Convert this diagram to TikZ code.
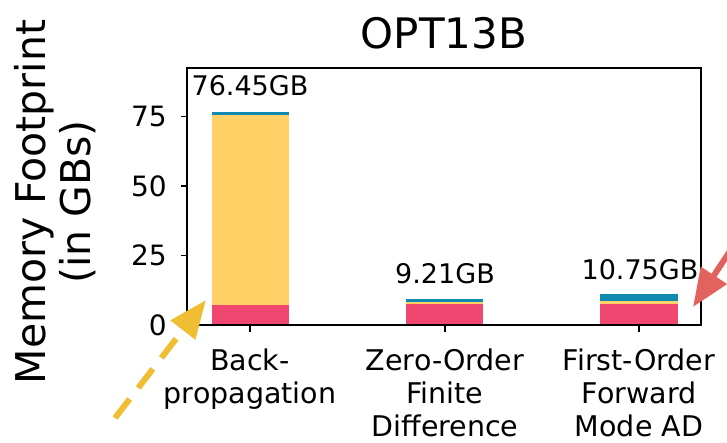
\documentclass[tikz,border=0pt]{standalone}
\usepackage{fontspec}
\setmainfont{DejaVu Sans}
\usetikzlibrary{arrows.meta}
\definecolor{cred}{HTML}{EF476F}
\definecolor{cyel}{HTML}{FFD166}
\definecolor{cteal}{HTML}{118AB2}
\definecolor{ayel}{RGB}{240,190,50}
\definecolor{ared}{RGB}{226,98,94}
\tikzset{
  ticklbl/.style={inner sep=0pt, font=\fontsize{28}{33}\selectfont},
  barlbl/.style={inner sep=0pt, anchor=base, font=\fontsize{27}{33}\selectfont},
  xlbl/.style={inner sep=0pt, anchor=north, align=center, font=\fontsize{28.5}{33}\selectfont},
  axisline/.style={line width=1.4pt, black},
  callout/.style={line width=6pt, -{Triangle[length=38pt,width=30pt]}}
}
\begin{document}
\begin{tikzpicture}[x=1pt,y=-1pt]
\useasboundingbox (0,0) rectangle (727,442);
\clip (0,0) rectangle (727,442);
% bars
\fill[cred]  (212,325) rectangle (289,305);
\fill[cyel]  (212,305) rectangle (289,114.5);
\fill[cteal] (212,114.5) rectangle (289,111.5);
\fill[cred]  (406,325) rectangle (483,304);
\fill[cyel]  (406,304) rectangle (483,301.5);
\fill[cteal] (406,301.5) rectangle (483,299);
\fill[cred]  (600,325) rectangle (678,304);
\fill[cyel]  (600,304) rectangle (678,301);
\fill[cteal] (600,301) rectangle (678,294);
% axes frame
\draw[axisline] (187,68) rectangle (701,325);
% y ticks
\foreach \y/\l in {325/0,255.5/25,186/50,116.5/75}{
  \draw[axisline] (187,\y) -- (181,\y);
  \node[ticklbl, anchor=east] at (167,\y) {\l};
}
% x ticks
\foreach \x in {250,445,639}{\draw[axisline] (\x,325) -- (\x,332);}
% x labels
\node[xlbl] (xl1) at (250,348.5) {Back-\\propagation};
\node[xlbl] (xl2) at (445,348.5) {Zero-Order\\Finite\\Difference};
\node[xlbl] (xl3) at (639,348.5) {First-Order\\Forward\\Mode AD};
% bar value labels
\node[barlbl] (v1) at (250,95) {76.45GB};
\node[barlbl] (v2) at (445,283) {9.21GB};
\node[barlbl] (v3) at (640,279) {10.75GB};
% title
\node[inner sep=0pt, anchor=base, font=\fontsize{42}{48}\selectfont] (title) at (444,48) {OPT13B};
% y label
\node[inner sep=0pt, rotate=90, align=center, font=\fontsize{41}{45}\selectfont] (ylab) at (55,202) {Memory Footprint\\(in GBs)};
% callout arrows
\coordinate (ytail) at (115,418);
\coordinate (ytip) at (206,300);
\draw[callout, ayel, dash pattern=on 24pt off 14pt] (ytail) -- (ytip);
\coordinate (rtail) at (740,236);
\coordinate (rtip) at (693,307);
\draw[callout, ared] (rtail) -- (rtip);
\end{tikzpicture}
\end{document}
